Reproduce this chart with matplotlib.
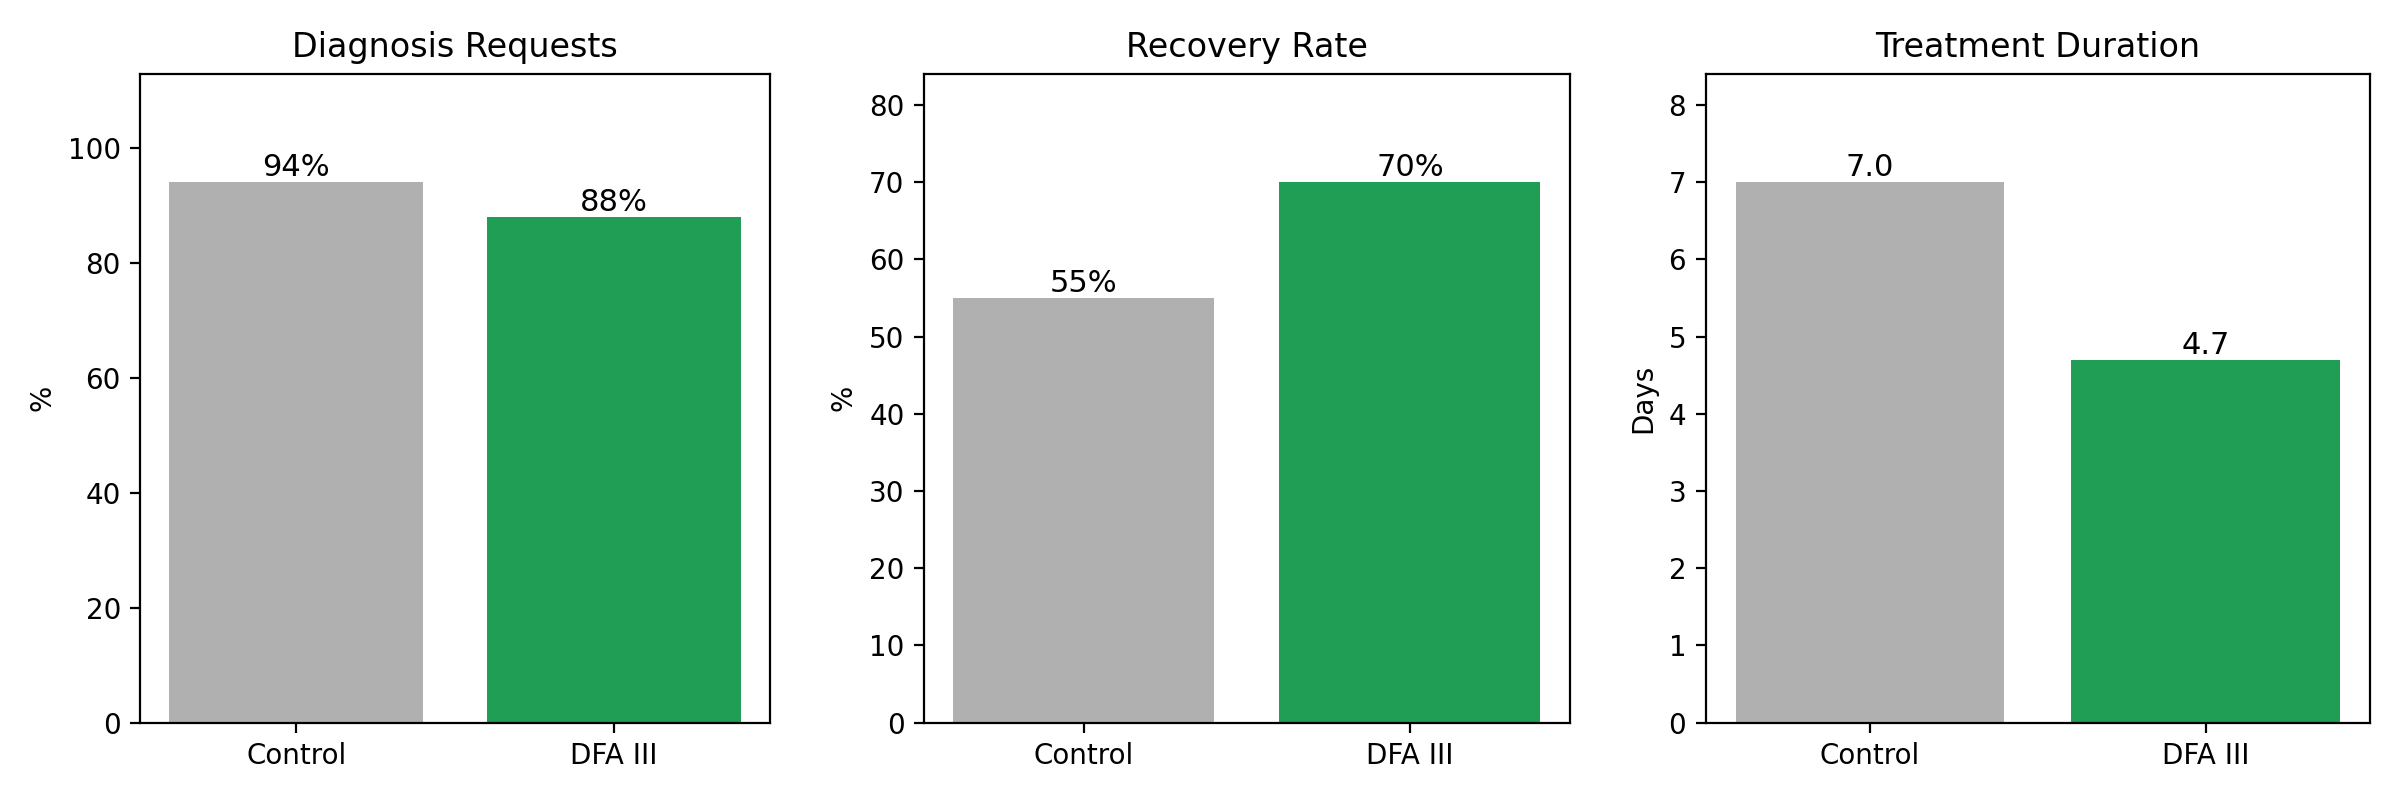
import matplotlib
matplotlib.use("Agg")
import matplotlib.pyplot as plt

groups = ["Control", "DFA III"]
colors = ["#b0b0b0", "#219e55"]

titles = ["Diagnosis Requests", "Recovery Rate", "Treatment Duration"]
ylabels = ["%", "%", "Days"]
diagnosis = [94, 88]
recovery = [55, 70]
duration = [7.0, 4.7]
formats = ["{:.0f}%", "{:.0f}%", "{:.1f}"]

# axes edges in figure fractions (left, right)
edges = [(0.0585, 0.3208), (0.385, 0.654), (0.7107, 0.9875)]
bottom, top = 0.0966, 0.9075

fig, axes = plt.subplots(1, 3, figsize=(12, 4), dpi=200)
for ax, title, ylab, vals, fmt, (l, r) in zip(axes, titles, ylabels,
                                              [diagnosis, recovery, duration],
                                              formats, edges):
    bars = ax.bar(groups, vals, color=colors)
    ax.bar_label(bars, labels=[fmt.format(v) for v in vals], fontsize=11)
    ax.set_ylim(0, max(vals) * 1.2)
    ax.set_title(title, fontsize=12)
    ax.set_ylabel(ylab)
    ax.set_position([l, bottom, r - l, top - bottom])

plt.savefig("out.png")
